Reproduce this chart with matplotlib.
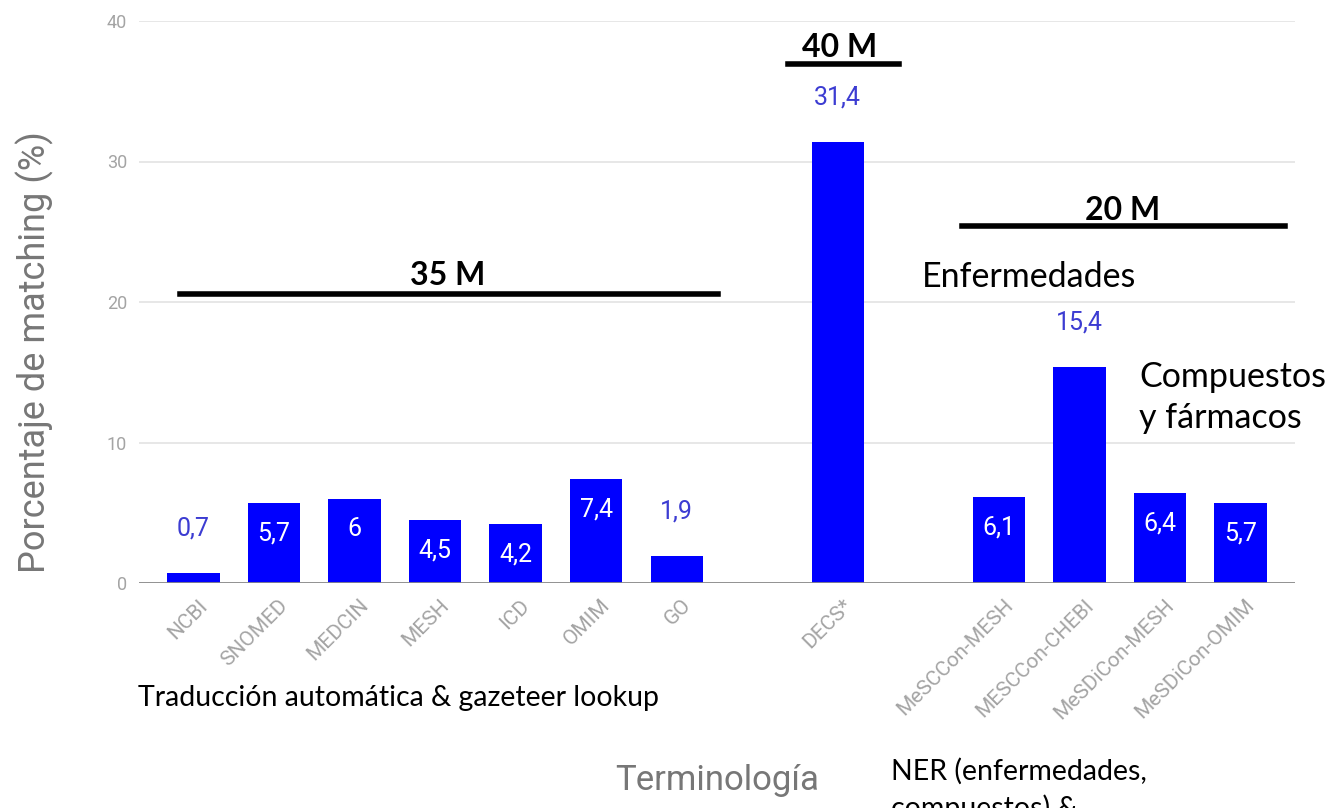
import numpy as np
import matplotlib.pyplot as plt
from matplotlib.transforms import ScaledTranslation

# terminologías (huecos vacíos separan los tres grupos)
terminologias = ['NCBI', 'SNOMED', 'MEDCIN', 'MESH', 'ICD', 'OMIM', 'GO', '',
                 'DECS*', '', 'MeSCCon-MESH', 'MESCCon-CHEBI', 'MeSDiCon-MESH',
                 'MeSDiCon-OMIM']
matching = [0.7, 5.7, 6, 4.5, 4.2, 7.4, 1.9, None,
            31.4, None, 6.1, 15.4, 6.4, 5.7]

azul = '#0000ff'
gris = '#a4a4a4'
W, H = 1330, 808

plt.rcParams['font.family'] = ['Roboto', 'DejaVu Sans']

fig = plt.figure(figsize=(W / 100, H / 100), dpi=100)
ax = fig.add_axes([139 / W, 1 - 583 / H, 1156 / W, 562 / H])

x = np.arange(len(terminologias))
xs = [i for i, v in zip(x, matching) if v is not None]
vs = [v for v in matching if v is not None]
ax.bar(xs, vs, width=0.65, color=azul, zorder=3)

# etiquetas de valor: dentro de la barra si cabe, encima si no
for xi, v in zip(xs, vs):
    txt = ('%g' % v).replace('.', ',')
    if 3 < v < 10:
        ax.annotate(txt, (xi, v), xytext=(0, -22), textcoords='offset points',
                    ha='center', va='center', color='white', fontsize=18)
    else:
        ax.annotate(txt, (xi, v), xytext=(0, 32), textcoords='offset points',
                    ha='center', va='center', color='#3c3cd2', fontsize=18)

ax.set_xlim(-0.677, 13.677)
ax.set_ylim(0, 40)
ax.set_yticks([0, 10, 20, 30, 40])
ax.yaxis.grid(True, color='#e3e3e3', linewidth=1.2, zorder=0)
ax.axhline(0, color='#8a8a8a', linewidth=2, zorder=4)
for s in ax.spines.values():
    s.set_visible(False)
ax.tick_params(axis='y', length=0, colors=gris, labelsize=13, pad=8.5)

ax.set_xticks(xs)
ax.set_xticklabels([t for t, v in zip(terminologias, matching) if v is not None],
                   rotation=45, ha='right', va='center', rotation_mode='anchor')
ax.tick_params(axis='x', length=0, colors=gris, labelsize=15, pad=14)
desplaza = ScaledTranslation(8 / 72, 0, fig.dpi_scale_trans)
for lab in ax.get_xticklabels():
    lab.set_transform(lab.get_transform() + desplaza)

fig.text(35 / W, 1 - 352 / H, 'Porcentaje de matching (%)', rotation=90,
         ha='center', va='center', fontsize=26, color='#777777')
fig.text(717 / W, 1 - 790 / H, 'Terminología', ha='center', va='baseline',
         fontsize=25, color='#777777')

# anotaciones sobre el gráfico
ano = dict(family=['Lato', 'DejaVu Sans'], color='black')
ax.plot([-0.168, 6.516], [20.57, 20.57], color='black', lw=4, clip_on=False, zorder=5)
ax.text(3.16, 21.21, '35 M', ha='center', va='baseline', fontsize=23,
        fontweight='bold', **ano)
ax.plot([7.385, 8.764], [36.94, 36.94], color='black', lw=4, clip_on=False, zorder=5)
ax.text(8.019, 37.44, '40 M', ha='center', va='baseline', fontsize=23,
        fontweight='bold', **ano)
ax.plot([9.547, 13.559], [25.41, 25.41], color='black', lw=4, clip_on=False, zorder=5)
ax.text(11.534, 25.84, '20 M', ha='center', va='baseline', fontsize=23,
        fontweight='bold', **ano)
ax.text(9.05, 21.07, 'Enfermedades', ha='left', va='baseline', fontsize=24.5, **ano)
ax.text(11.745, 13.95, 'Compuestos', ha='left', va='baseline', fontsize=24.5, **ano)
ax.text(11.745, 11.03, 'y fármacos', ha='left', va='baseline', fontsize=24.5, **ano)

fig.text(138 / W, 1 - 706 / H, 'Traducción automática & gazeteer lookup',
         ha='left', va='baseline', fontsize=20.5, **ano)
fig.text(891 / W, 1 - 780 / H, 'NER (enfermedades,', ha='left',
         va='baseline', fontsize=20.5, **ano)
fig.text(891 / W, 1 - 817 / H, 'compuestos) &', ha='left',
         va='baseline', fontsize=20.5, **ano)

fig.savefig('out.png', dpi=100)
